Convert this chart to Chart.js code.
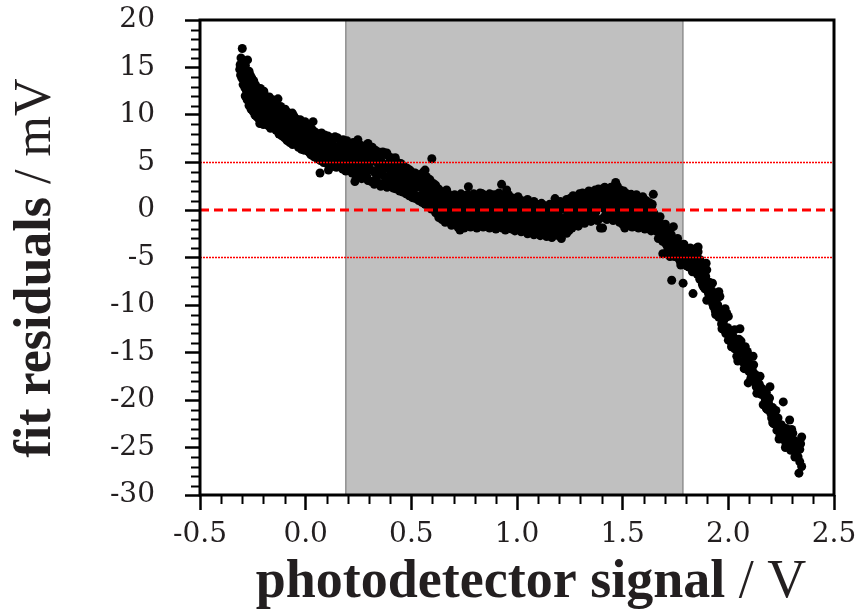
<!DOCTYPE html>
<html>
<head>
<meta charset="utf-8">
<title>fit residuals</title>
<script src="https://cdn.jsdelivr.net/npm/chart.js@4.4.1/dist/chart.umd.min.js"></script>
<style>
  html, body { margin: 0; padding: 0; background: #fff; }
  #wrap { width: 859px; height: 612px; position: relative; }
</style>
</head>
<body>
<div id="wrap"><canvas id="residualChart"></canvas></div>
<script>
// measured residuals (V, mV), grouped by signal range
const leftX = [-0.312,-0.310,-0.308,-0.306,-0.304,-0.302,-0.300,-0.299,-0.297,-0.296,-0.294,-0.292,-0.290,-0.288,-0.287,-0.285,-0.283,-0.281,-0.280,-0.278,-0.276,-0.274,-0.272,-0.270,-0.268,-0.266,-0.264,-0.262,-0.260,-0.258,-0.256,-0.254,-0.252,-0.250,-0.247,-0.244,-0.241,-0.238,-0.235,-0.232,-0.229,-0.226,-0.223,-0.220,-0.217,-0.214,-0.211,-0.208,-0.205,-0.202,-0.198,-0.195,-0.192,-0.188,-0.185,-0.181,-0.177,-0.174,-0.170,-0.166,-0.162,-0.158,-0.154,-0.150,-0.146,-0.142,-0.138,-0.134,-0.131,-0.127,-0.123,-0.119,-0.115,-0.111,-0.107,-0.103,-0.099,-0.095,-0.091,-0.087,-0.083,-0.079,-0.075,-0.071,-0.067,-0.063,-0.059,-0.055,-0.051,-0.047,-0.043,-0.039,-0.035,-0.031,-0.027,-0.023,-0.019,-0.015,-0.011,-0.007,-0.003,0.000]
const leftY = [14.8,15.3,14.2,16.0,14.9,13.9,17.0,15.5,14.4,13.2,15.1,13.8,14.6,12.9,13.9,15.2,13.4,12.6,14.1,13.0,12.2,13.6,12.7,11.9,13.1,12.4,11.5,12.9,12.0,10.6,12.6,11.3,13.3,11.9,10.9,12.3,11.4,10.5,12.0,11.1,10.2,11.7,10.8,11.9,9.1,10.6,11.3,10.0,11.6,10.4,9.6,11.0,10.3,11.9,9.7,10.8,9.9,10.5,8.9,10.2,11.1,9.4,10.4,9.8,10.9,9.2,10.1,9.5,11.7,8.6,9.9,8.2,9.4,10.3,8.9,9.7,8.5,9.3,10.0,8.1,9.0,8.7,7.1,9.5,8.3,10.2,7.8,8.9,7.4,8.6,9.2,7.9,8.4,7.2,8.8,7.6,8.1,6.9,7.7,8.4,9.3,7.0]
const leftEdgeX = [-0.275,-0.268,-0.262,-0.255,-0.246,-0.238,-0.230,-0.222,-0.214,-0.206,-0.198,-0.190,-0.180,-0.172,-0.164,-0.156,-0.148,-0.140,-0.128,-0.118,-0.108,-0.097,-0.086,-0.076,-0.066,-0.056,-0.046,-0.036,-0.026,-0.016,-0.006,-0.286,-0.277,-0.268,-0.259,-0.249,-0.240,-0.231,-0.222,-0.212,-0.200,-0.190,-0.178,-0.166,-0.152,-0.140,-0.126,-0.113,-0.100,-0.088,-0.072,-0.062,-0.048,-0.034,-0.020,-0.008]
const leftEdgeY = [15.8,14.6,14.2,13.9,13.6,13.2,12.9,12.6,12.8,12.3,12.5,12.0,11.7,11.9,11.4,11.6,11.2,11.0,10.8,10.9,10.5,10.6,10.3,10.1,9.8,9.9,9.6,9.4,9.5,9.1,9.2,12.0,11.6,11.0,10.9,10.4,10.0,9.8,9.6,9.4,9.0,9.2,8.9,8.6,8.7,8.4,8.0,7.8,7.6,7.3,7.5,6.9,7.0,6.6,6.4,6.3]

const slopeX = [0.004,0.008,0.012,0.016,0.020,0.024,0.028,0.032,0.035,0.039,0.043,0.047,0.051,0.055,0.059,0.063,0.068,0.072,0.076,0.080,0.084,0.088,0.092,0.096,0.100,0.104,0.108,0.112,0.116,0.120,0.124,0.128,0.133,0.139,0.143,0.147,0.151,0.156,0.160,0.164,0.169,0.173,0.177,0.182,0.186,0.190,0.195,0.199,0.204,0.208,0.213,0.217,0.222,0.226,0.231,0.233,0.236,0.240,0.245,0.247,0.251,0.256,0.260,0.265,0.269,0.274,0.278,0.283,0.287,0.289,0.292,0.295,0.300,0.305,0.310,0.315,0.320,0.325,0.330,0.335,0.340,0.345,0.350,0.355,0.360,0.365,0.370,0.375,0.380,0.384,0.389,0.394,0.399,0.404,0.409,0.414,0.419,0.424,0.429,0.434,0.439,0.444,0.447,0.452,0.457,0.462,0.467,0.472,0.478,0.483,0.488,0.493,0.498,0.503,0.508,0.513,0.518,0.523,0.528,0.533,0.538,0.541,0.546,0.549,0.551,0.556,0.558,0.561,0.565,0.570,0.572,0.575,0.580,0.585,0.588,0.590,0.595,0.597,0.600]
const slopeY = [8.3,6.6,7.5,6.1,8.0,7.1,6.4,7.8,9.3,6.8,7.4,5.9,6.0,7.2,6.5,7.9,3.9,6.2,5.4,7.0,6.6,5.8,7.4,6.1,5.5,6.9,4.2,6.4,5.7,7.1,6.0,5.2,6.7,7.7,5.6,6.3,4.9,5.9,6.8,5.3,6.1,5.0,7.4,5.7,4.4,6.4,5.5,6.9,4.9,5.9,6.6,5.2,6.1,4.6,5.6,3.0,6.3,5.0,5.8,7.4,4.3,5.5,6.4,4.8,5.9,3.9,5.3,6.7,4.5,3.5,5.6,7.0,4.9,6.0,4.2,5.4,6.3,4.0,5.1,3.4,5.8,4.5,3.9,5.3,4.1,6.1,3.6,4.8,3.2,6.0,4.4,3.5,5.1,3.9,2.9,4.7,3.7,5.5,3.2,4.3,2.7,3.9,2.4,4.6,3.3,2.6,4.0,3.0,1.8,3.6,2.4,4.2,2.9,1.9,3.4,2.2,3.9,1.5,2.8,3.5,1.2,2.4,3.1,3.8,1.6,2.7,4.0,1.0,4.2,2.0,3.5,1.3,2.9,0.8,3.2,1.9,2.5,5.4,1.1]
const slopeEdgeX = [0.015,0.030,0.045,0.060,0.075,0.090,0.105,0.120,0.135,0.150,0.165,0.180,0.195,0.210,0.225,0.240,0.255,0.270,0.285,0.300,0.315,0.330,0.345,0.360,0.375,0.390,0.405,0.420,0.435,0.450,0.465,0.480,0.495,0.510,0.525,0.540,0.555,0.570,0.585,0.010,0.025,0.040,0.055,0.070,0.085,0.100,0.115,0.130,0.145,0.160,0.175,0.190,0.205,0.220,0.235,0.250,0.265,0.280,0.295,0.310,0.325,0.340,0.355,0.370,0.385,0.400,0.415,0.430,0.445,0.460,0.475,0.490,0.505,0.520,0.535,0.550,0.565,0.580,0.595]
const slopeEdgeY = [8.7,8.5,8.2,8.0,8.1,7.9,7.8,7.6,7.5,7.6,7.3,7.1,7.3,7.0,7.1,6.8,6.9,6.6,6.8,6.5,6.6,6.3,6.1,5.9,6.0,5.7,5.5,5.3,5.0,4.9,4.6,4.4,4.1,3.9,3.6,3.7,3.3,3.0,2.7,6.2,5.8,5.6,5.4,5.2,5.0,4.9,4.8,4.6,4.5,4.7,4.3,4.1,4.2,3.9,3.7,3.6,3.3,3.5,3.1,3.0,2.7,2.9,2.5,2.8,2.4,2.6,2.3,2.2,2.0,1.9,1.7,1.5,1.3,1.2,1.0,0.8,0.6,0.4,0.1]

const plateauX = [0.604,0.607,0.611,0.614,0.618,0.621,0.625,0.628,0.632,0.636,0.639,0.643,0.647,0.650,0.654,0.658,0.660,0.664,0.667,0.671,0.675,0.679,0.683,0.687,0.691,0.695,0.700,0.704,0.708,0.712,0.716,0.720,0.724,0.728,0.730,0.735,0.739,0.743,0.747,0.751,0.755,0.759,0.763,0.767,0.770,0.774,0.778,0.782,0.786,0.790,0.794,0.798,0.802,0.806,0.810,0.814,0.818,0.822,0.826,0.830,0.833,0.837,0.841,0.845,0.849,0.853,0.857,0.861,0.865,0.869,0.873,0.877,0.881,0.885,0.889,0.893,0.897,0.901,0.905,0.909,0.913,0.917,0.921,0.925,0.927,0.931,0.935,0.939,0.943,0.947,0.951,0.954,0.958,0.962,0.966,0.970,0.974,0.978,0.982,0.986,0.990,0.994,0.998,1.002,1.006,1.010,1.014,1.018,1.022,1.026,1.030,1.034,1.038,1.042,1.046,1.050,1.054,1.058,1.062,1.066,1.070,1.074,1.077,1.081,1.085,1.089,1.093,1.097,1.101,1.105,1.109,1.113,1.116,1.120,1.124,1.128,1.132,1.136,1.140,1.144,1.148,1.152,1.156,1.160,1.164,1.168,1.172,1.176,1.180,1.184,1.188,1.192,1.196,1.200,1.204,1.208,1.210,1.214,1.218,1.222,1.226,1.230,1.235,1.239,1.243,1.247,1.251,1.255,1.259,1.263,1.267,1.271,1.275,1.279,1.283,1.287,1.291,1.295,1.300,1.304,1.308,1.312,1.316,1.320,1.324,1.328,1.332,1.337,1.341,1.345,1.349,1.353,1.357,1.361,1.365,1.369,1.373,1.377,1.381,1.385,1.389,1.393,1.395,1.399,1.403,1.405,1.409,1.413,1.417,1.421,1.425,1.429,1.433,1.437,1.441,1.445,1.449,1.453,1.457,1.461,1.465,1.467,1.471,1.475,1.479,1.483,1.487,1.490,1.494,1.498,1.502,1.506,1.510,1.514,1.518,1.522,1.526,1.530,1.534,1.538,1.540,1.544,1.548,1.552,1.556,1.560,1.564,1.568,1.572,1.576,1.580,1.584,1.588,1.592,1.596,1.600,1.604,1.608,1.613,1.617,1.621,1.625,1.629,1.633,1.637,1.641,1.645,1.649,1.653]
const plateauY = [2.8,1.2,0.4,1.9,0.9,2.3,0.1,1.4,0.7,1.8,-0.3,1.1,0.3,1.6,-0.5,0.9,-0.7,0.2,2.1,0.6,-0.4,1.3,-0.9,0.4,-0.2,1.0,-1.05,0.3,-0.6,1.2,0.0,-1.3,0.7,-0.4,-2.1,0.9,-0.8,0.2,1.4,-1.1,0.5,-0.2,1.1,-0.9,2.45,0.1,-1.5,0.8,-0.5,1.3,0.0,-1.2,0.6,-0.3,-1.4,1.0,0.3,-0.8,1.5,-0.1,1.75,-1.0,0.5,1.2,-0.6,0.2,1.4,-1.3,0.7,-0.2,1.1,-0.9,0.4,1.6,-0.5,0.9,-1.4,0.1,1.3,-0.7,0.6,-0.1,1.5,-1.1,2.7,0.3,-0.6,1.0,-1.5,0.5,2.1,-0.3,-1.2,0.8,-0.8,0.2,1.2,-1.6,-0.1,0.7,-1.0,0.4,-0.5,1.1,-1.3,0.0,-0.8,0.6,-1.8,-0.4,0.3,-1.1,-0.2,0.9,-1.5,-0.6,0.4,-2.0,-0.9,0.1,-1.3,-0.3,-2.4,0.6,-1.0,-1.9,-0.5,0.3,-1.4,-2.2,-0.7,-1.6,0.7,-1.1,-0.2,-2.0,-0.8,-1.5,-2.8,-0.4,-1.2,0.2,-1.9,-0.9,-2.3,-0.5,-1.4,0.0,1.2,-1.7,-0.8,-2.4,-0.3,-1.3,0.4,-2.0,-3.0,-0.9,-1.6,0.1,-1.1,-2.2,-2.45,-0.5,-1.4,0.3,-0.9,-1.8,-0.2,0.6,-1.2,-0.4,0.9,-1.5,0.2,-0.7,1.0,-0.1,1.05,-0.9,0.5,-0.3,1.3,-1.2,0.2,0.9,-0.5,1.75,0.4,-0.8,1.1,0.0,1.5,-0.6,0.7,1.9,-0.2,1.2,0.3,-1.0,1.6,0.5,-1.9,0.9,2.2,-1.9,0.2,1.4,2.1,-0.4,1.0,0.4,1.8,-0.3,1.1,2.4,0.1,1.5,0.6,-0.7,1.3,2.9,0.3,1.9,-0.5,0.9,1.6,2.1,0.0,1.2,-0.9,0.6,-1.9,1.4,0.2,-0.6,1.0,-0.2,0.5,-1.1,1.65,0.1,-0.7,0.8,-1.4,0.3,-0.4,1.1,-1.0,0.0,1.05,-0.6,0.4,-1.3,0.7,-0.2,-0.9,0.3,-1.75,-0.5,0.5,-1.2,-0.1,-0.8,0.4,-1.5,1.65,-0.4,-1.0]
const plateauEdgeX = [0.615,0.630,0.645,0.660,0.675,0.690,0.705,0.720,0.735,0.750,0.765,0.780,0.795,0.810,0.825,0.840,0.855,0.870,0.885,0.900,0.915,0.930,0.945,0.960,0.975,0.990,1.005,1.020,1.035,1.050,1.065,1.080,1.095,1.110,1.125,1.140,1.155,1.170,1.190,1.205,1.220,1.235,1.250,1.265,1.280,1.295,1.310,1.325,1.340,1.355,1.370,1.385,1.400,1.415,1.430,1.445,1.460,1.475,1.490,1.505,1.520,1.535,1.550,1.565,1.580,1.595,1.610,1.625,1.640,0.615,0.630,0.645,0.660,0.675,0.690,0.705,0.720,0.735,0.750,0.765,0.780,0.795,0.810,0.825,0.840,0.855,0.870,0.885,0.900,0.915,0.930,0.945,0.960,0.975,0.990,1.005,1.020,1.035,1.050,1.065,1.080,1.095,1.110,1.125,1.150,1.165,1.180,1.195,1.215,1.230,1.245,1.260,1.275,1.290,1.305,1.320,1.335,1.350,1.365,1.380,1.410,1.425,1.440,1.455,1.470,1.485,1.500,1.515,1.530,1.545,1.560,1.575,1.590,1.605,1.620,1.635,1.650]
const plateauEdgeY = [2.6,2.2,1.9,1.5,1.7,1.4,1.6,1.3,1.7,1.5,1.6,1.4,1.7,1.5,1.8,1.6,1.5,1.7,1.4,1.6,1.8,1.5,1.4,1.6,1.3,1.2,1.4,1.0,0.9,1.1,0.8,0.9,0.6,0.4,0.5,0.2,0.6,0.4,0.7,0.9,0.8,1.1,1.2,1.5,1.3,1.7,1.8,1.6,2.0,1.9,2.1,2.2,1.9,2.4,2.2,2.0,2.3,2.5,1.8,2.0,1.7,1.5,1.3,1.6,1.2,1.4,1.0,0.8,0.6,-0.3,-0.8,-1.0,-1.3,-1.2,-1.6,-1.4,-1.8,-1.5,-1.9,-1.6,-1.8,-1.5,-1.9,-1.6,-1.8,-1.5,-1.9,-1.7,-2.0,-1.6,-1.9,-2.1,-1.7,-2.0,-2.2,-1.9,-2.3,-2.1,-2.5,-2.2,-2.6,-2.4,-2.7,-2.5,-2.6,-2.9,-2.4,-2.7,-2.3,-2.1,-2.2,-1.9,-1.6,-1.7,-1.3,-1.4,-1.1,-1.2,-0.9,-1.1,-0.8,-1.0,-0.7,-1.1,-0.9,-1.3,-1.5,-1.2,-1.6,-1.8,-1.5,-1.9,-1.7,-2.0,-1.8,-2.2,-2.0]

const tailX = [1.657,1.661,1.665,1.669,1.673,1.677,1.681,1.685,1.689,1.690,1.694,1.698,1.702,1.706,1.710,1.714,1.718,1.722,1.724,1.728,1.732,1.736,1.740,1.744,1.748,1.752,1.756,1.760,1.764,1.768,1.772,1.776,1.780,1.784,1.786,1.790,1.794,1.798,1.803,1.807,1.810,1.814,1.818,1.822,1.826,1.830,1.833,1.837,1.841,1.845,1.850,1.850,1.854,1.857,1.857,1.861,1.865,1.869,1.873,1.877,1.881,1.885,1.889,1.893,1.898,1.898,1.902,1.906,1.910,1.914,1.918,1.922,1.926,1.930,1.934,1.938,1.942,1.946,1.950,1.955,1.960,1.964,1.968,1.972,1.976,1.980,1.984,1.988,1.993,1.997,2.000,2.005,2.010,2.015,2.020,2.025,2.030,2.035,2.040,2.045,2.050,2.055,2.060,2.065,2.070,2.075,2.080,2.085,2.090,2.094,2.094,2.098,2.103,2.108,2.113,2.117,2.122,2.127,2.132,2.137,2.142,2.146,2.150,2.155,2.160,2.165,2.170,2.175,2.180,2.185,2.190,2.197,2.201,2.205,2.210,2.215,2.220,2.225,2.230,2.235,2.240,2.245,2.250,2.255,2.260,2.265,2.270,2.275,2.280,2.285,2.290,2.295,2.300,2.305,2.310,2.315,2.320,2.325,2.330,2.334,2.338,2.342,2.347,2.347]
const tailY = [-2.2,-0.8,-1.7,-3.0,-1.2,-0.7,-2.4,-1.6,-3.3,-4.6,-2.0,-2.9,-1.5,-3.6,-2.5,-4.1,-3.0,-2.2,-4.9,-3.5,-7.4,-4.2,-1.75,-3.8,-4.6,-3.1,-3.2,-5.0,-4.3,-3.6,-5.4,-4.7,-3.9,-5.1,-7.7,-4.4,-5.7,-4.9,-4.2,-5.4,-4.2,-6.0,-5.0,-4.5,-5.8,-6.5,-8.8,-5.3,-6.2,-4.8,-4.0,-5.6,-6.8,-3.9,-4.4,-6.1,-7.3,-5.9,-6.7,-7.8,-6.4,-7.2,-8.3,-7.0,-6.3,-9.5,-8.0,-8.8,-7.6,-7.7,-9.3,-8.5,-9.9,-10.2,-9.0,-10.6,-9.5,-10.9,-10.0,-11.3,-9.1,-10.8,-12.0,-11.1,-11.9,-12.6,-11.4,-13.0,-10.9,-12.4,-13.7,-12.9,-13.8,-12.8,-14.2,-13.4,-14.6,-13.9,-15.4,-14.8,-13.6,-12.5,-15.1,-14.4,-16.0,-15.2,-14.4,-16.3,-15.7,-16.5,-18.2,-17.0,-16.2,-17.6,-16.8,-15.4,-18.0,-17.3,-18.6,-17.8,-19.0,-18.3,-17.5,-19.4,-18.8,-20.5,-19.6,-20.0,-19.2,-21.0,-20.3,-18.6,-21.4,-21.9,-20.8,-22.5,-21.6,-22.2,-23.2,-21.9,-22.9,-23.7,-22.6,-24.0,-20.2,-23.4,-24.4,-23.0,-24.8,-23.8,-22.1,-25.3,-24.5,-23.5,-25.1,-24.3,-25.6,-24.8,-26.0,-27.7,-25.2,-24.6,-27.0,-23.9]
const tailEdgeX = [1.700,1.715,1.730,1.745,1.760,1.775,1.790,1.805,1.820,1.835,1.850,1.865,1.880,1.895,1.910,1.925,1.940,1.955,1.970,1.985,2.000,2.015,2.030,2.045,2.060,2.075,2.090,2.105,2.120,2.135,2.150,2.165,2.180,2.195,2.210,2.225,2.240,2.255,2.270,2.285,2.300,2.315,2.325,2.338]
const tailEdgeY = [-3.4,-3.9,-2.6,-4.9,-3.0,-5.8,-3.6,-5.9,-4.0,-6.4,-4.7,-5.2,-8.0,-5.6,-9.4,-7.7,-11.0,-8.6,-12.5,-10.4,-11.2,-14.4,-12.6,-15.9,-13.8,-16.7,-14.9,-17.9,-16.3,-19.3,-18.6,-19.0,-20.9,-19.8,-22.4,-21.1,-24.1,-22.8,-25.0,-24.2,-23.1,-26.0,-25.9,-26.5]

// fit window (shaded) and tolerance lines
const fitWindow = [0.19, 1.785]
const tolerance = 5
const xRange = [-0.5, 2.5]
const yRange = [-30, 20]

function toPoints(xs, ys) {
  return xs.map((x, i) => ({ x: x, y: ys[i] }))
}

const residuals = [].concat(
  toPoints(leftX, leftY),
  toPoints(leftEdgeX, leftEdgeY),
  toPoints(slopeX, slopeY),
  toPoints(slopeEdgeX, slopeEdgeY),
  toPoints(plateauX, plateauY),
  toPoints(plateauEdgeX, plateauEdgeY),
  toPoints(tailX, tailY),
  toPoints(tailEdgeX, tailEdgeY)
)

const textColor = "#231f20"

// frame, minor ticks and the two-weight axis titles
const axisDecor = {
  id: "axisDecor",
  afterDraw(chart) {
    const { ctx, chartArea, scales } = chart
    const xs = scales.x
    const ys = scales.y
    ctx.save()

    ctx.strokeStyle = "#000"
    ctx.lineWidth = 2
    ctx.beginPath()
    for (let i = -4; i < 25; i++) {
      if (i % 5 === 0) continue
      const px = Math.round(xs.getPixelForValue(i / 10)) + 0.5
      ctx.moveTo(px, chartArea.bottom)
      ctx.lineTo(px, chartArea.bottom + 9)
    }
    for (let v = yRange[0] + 1; v < yRange[1]; v++) {
      if (v % 5 === 0) continue
      const py = Math.round(ys.getPixelForValue(v)) + 0.5
      ctx.moveTo(chartArea.left - 9, py)
      ctx.lineTo(chartArea.left, py)
    }
    ctx.stroke()

    ctx.lineWidth = 3
    ctx.strokeRect(chartArea.left, chartArea.top, chartArea.right - chartArea.left, chartArea.bottom - chartArea.top)

    ctx.fillStyle = textColor
    ctx.textBaseline = "alphabetic"
    ctx.textAlign = "left"

    // x title
    ctx.font = "bold 54px 'Liberation Serif', serif"
    const xa = "photodetector signal"
    const wa = ctx.measureText(xa).width
    ctx.font = "54px 'Liberation Serif', serif"
    const xb = " / V"
    const wb = ctx.measureText(xb).width
    let x0 = 531 - (wa + wb) / 2
    ctx.font = "bold 54px 'Liberation Serif', serif"
    ctx.fillText(xa, x0, 597)
    ctx.font = "54px 'Liberation Serif', serif"
    ctx.fillText(xb, x0 + wa, 597)

    // y title
    ctx.translate(50, 268)
    ctx.rotate(-Math.PI / 2)
    ctx.font = "bold 52px 'Liberation Serif', serif"
    const ya = "fit residuals"
    const wya = ctx.measureText(ya).width
    ctx.font = "52px 'Liberation Serif', serif"
    const yb = " / mV"
    const wyb = ctx.measureText(yb).width
    x0 = -(wya + wyb) / 2
    ctx.font = "bold 52px 'Liberation Serif', serif"
    ctx.fillText(ya, x0, 0)
    ctx.font = "52px 'Liberation Serif', serif"
    ctx.fillText(yb, x0 + wya, 0)

    ctx.restore()
  }
}

window.addEventListener("load", () => {
  const ctx = document.getElementById("residualChart").getContext("2d")
  new Chart(ctx, {
    type: "scatter",
    data: {
      datasets: [
        {
          type: "line",
          label: "fit +5 mV",
          data: [{ x: xRange[0], y: tolerance }, { x: xRange[1], y: tolerance }],
          borderColor: "#ff0000",
          borderWidth: 1.5,
          borderDash: [2, 1],
          pointRadius: 0,
          order: 0,
        },
        {
          type: "line",
          label: "fit -5 mV",
          data: [{ x: xRange[0], y: -tolerance }, { x: xRange[1], y: -tolerance }],
          borderColor: "#ff0000",
          borderWidth: 1.5,
          borderDash: [2, 1],
          pointRadius: 0,
          order: 0,
        },
        {
          type: "line",
          label: "zero",
          data: [{ x: xRange[0], y: 0 }, { x: xRange[1], y: 0 }],
          borderColor: "#ff0000",
          borderWidth: 3,
          borderDash: [9, 5],
          pointRadius: 0,
          order: 0,
        },
        {
          label: "residuals",
          data: residuals,
          backgroundColor: "#000",
          borderColor: "#000",
          borderWidth: 0,
          pointRadius: 4.5,
          order: 1,
        },
        {
          type: "line",
          label: "fit window",
          data: [
            { x: fitWindow[0], y: yRange[0] },
            { x: fitWindow[0], y: yRange[1] },
            { x: fitWindow[1], y: yRange[1] },
            { x: fitWindow[1], y: yRange[0] },
          ],
          borderColor: "#8f8f8f",
          borderWidth: 1.5,
          backgroundColor: "#c0c0c0",
          fill: "start",
          pointRadius: 0,
          tension: 0,
          order: 2,
        },
      ],
    },
    options: {
      responsive: true,
      maintainAspectRatio: false,
      animation: false,
      devicePixelRatio: 1,
      layout: { padding: { top: 20, right: 25, left: 0, bottom: 0 } },
      plugins: { legend: { display: false }, tooltip: { enabled: false } },
      scales: {
        x: {
          type: "linear",
          min: xRange[0],
          max: xRange[1],
          border: { display: false },
          grid: { drawOnChartArea: false, drawTicks: true, tickLength: 15, tickWidth: 2.5, tickColor: "#000" },
          ticks: {
            stepSize: 0.5,
            padding: 8,
            color: textColor,
            font: { family: "'DejaVu Serif', serif", size: 28 },
            callback: (v) => Number(v).toFixed(1),
          },
          afterFit: (scale) => {
            scale.height = 117
            scale.paddingLeft = 0
            scale.paddingRight = 0
          },
        },
        y: {
          type: "linear",
          min: yRange[0],
          max: yRange[1],
          border: { display: false },
          grid: { drawOnChartArea: false, drawTicks: true, tickLength: 15, tickWidth: 2.5, tickColor: "#000" },
          ticks: {
            stepSize: 5,
            padding: 30,
            color: textColor,
            font: { family: "'DejaVu Serif', serif", size: 28 },
          },
          afterFit: (scale) => {
            scale.width = 200
            scale.paddingTop = 0
            scale.paddingBottom = 0
          },
        },
      },
    },
    plugins: [axisDecor],
  })
})
</script>
</body>
</html>
